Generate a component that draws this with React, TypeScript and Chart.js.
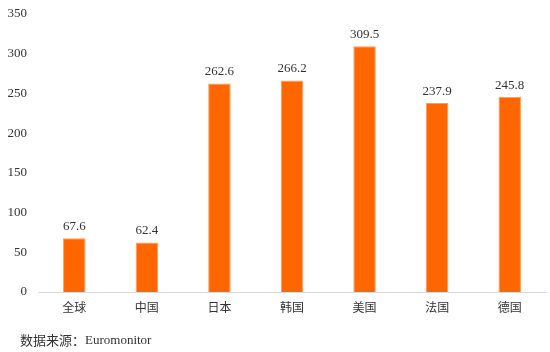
import React, { useEffect, useRef } from "react";
import { Chart, registerables } from "chart.js";

Chart.register(...registerables);

const categories = ["全球", "中国", "日本", "韩国", "美国", "法国", "德国"];
const values = [67.6, 62.4, 262.6, 266.2, 309.5, 237.9, 245.8];
const yTicks = [0, 50, 100, 150, 200, 250, 300, 350];
const sourceText = "数据来源：Euromonitor";

const SERIF = '"Liberation Serif", "Times New Roman", serif';

const labelPlugin = {
  id: "barLabels",
  afterDatasetsDraw(chart: any) {
    const ctx = chart.ctx;
    const meta = chart.getDatasetMeta(0);
    ctx.save();
    ctx.font = "13px " + SERIF;
    ctx.fillStyle = "#333333";
    ctx.textAlign = "center";
    ctx.textBaseline = "bottom";
    meta.data.forEach((bar: any, i: number) => {
      ctx.fillText(values[i].toFixed(1), bar.x, bar.y - 5);
    });
    ctx.restore();
  },
};

const sourcePlugin = {
  id: "sourceText",
  afterDraw(chart: any) {
    const ctx = chart.ctx;
    ctx.save();
    ctx.fillStyle = "#333333";
    ctx.textAlign = "left";
    ctx.textBaseline = "middle";
    const zh = sourceText.slice(0, 5);
    ctx.font = '13px "Noto Sans CJK SC", sans-serif';
    ctx.fillText(zh, 20, 340);
    const w = ctx.measureText(zh).width;
    ctx.font = "13px " + SERIF;
    ctx.fillText(sourceText.slice(5), 20 + w, 341);
    ctx.restore();
  },
};

export default function App() {
  const ref = useRef<HTMLCanvasElement>(null);
  useEffect(() => {
    document.body.style.margin = "0";
    const chart = new Chart(ref.current!, {
      type: "bar",
      data: {
        labels: categories,
        datasets: [
          {
            data: values,
            backgroundColor: "#FF6600",
            borderColor: "#FF9A5A",
            borderWidth: { top: 1, left: 1, right: 1, bottom: 0 },
            barPercentage: 0.62,
            categoryPercentage: 0.5,
          },
        ],
      },
      options: {
        animation: false,
        responsive: false,
        devicePixelRatio: 1,
        layout: { padding: { top: 14, right: 4, left: 0, bottom: 36 } },
        plugins: {
          legend: { display: false },
          tooltip: { enabled: false },
          title: { display: false },
        },
        scales: {
          x: {
            afterFit(scale: any) {
              scale.height = 24;
              scale.paddingLeft = 0;
              scale.paddingRight = 0;
            },
            grid: { display: false, drawTicks: false },
            border: { display: true, color: "#D9D9D9", width: 1 },
            ticks: {
              color: "#333333",
              font: { family: '"Noto Sans CJK SC", sans-serif', size: 12 },
              padding: 8,
            },
          },
          y: {
            min: 0,
            max: 350,
            afterBuildTicks(scale: any) {
              scale.ticks = yTicks.map((v) => ({ value: v }));
            },
            afterFit(scale: any) {
              scale.width = 38;
              scale.paddingTop = 0;
              scale.paddingBottom = 0;
            },
            grid: { display: false, drawTicks: false },
            border: { display: false },
            ticks: {
              color: "#333333",
              font: { family: SERIF, size: 13 },
              padding: 11,
            },
          },
        },
      },
      plugins: [labelPlugin, sourcePlugin],
    });
    return () => chart.destroy();
  }, []);
  return (
    <div style={{ position: "absolute", left: 0, top: 0, width: 550, height: 352 }}>
      <canvas ref={ref} width={550} height={352} style={{ width: 550, height: 352 }} />
    </div>
  );
}
